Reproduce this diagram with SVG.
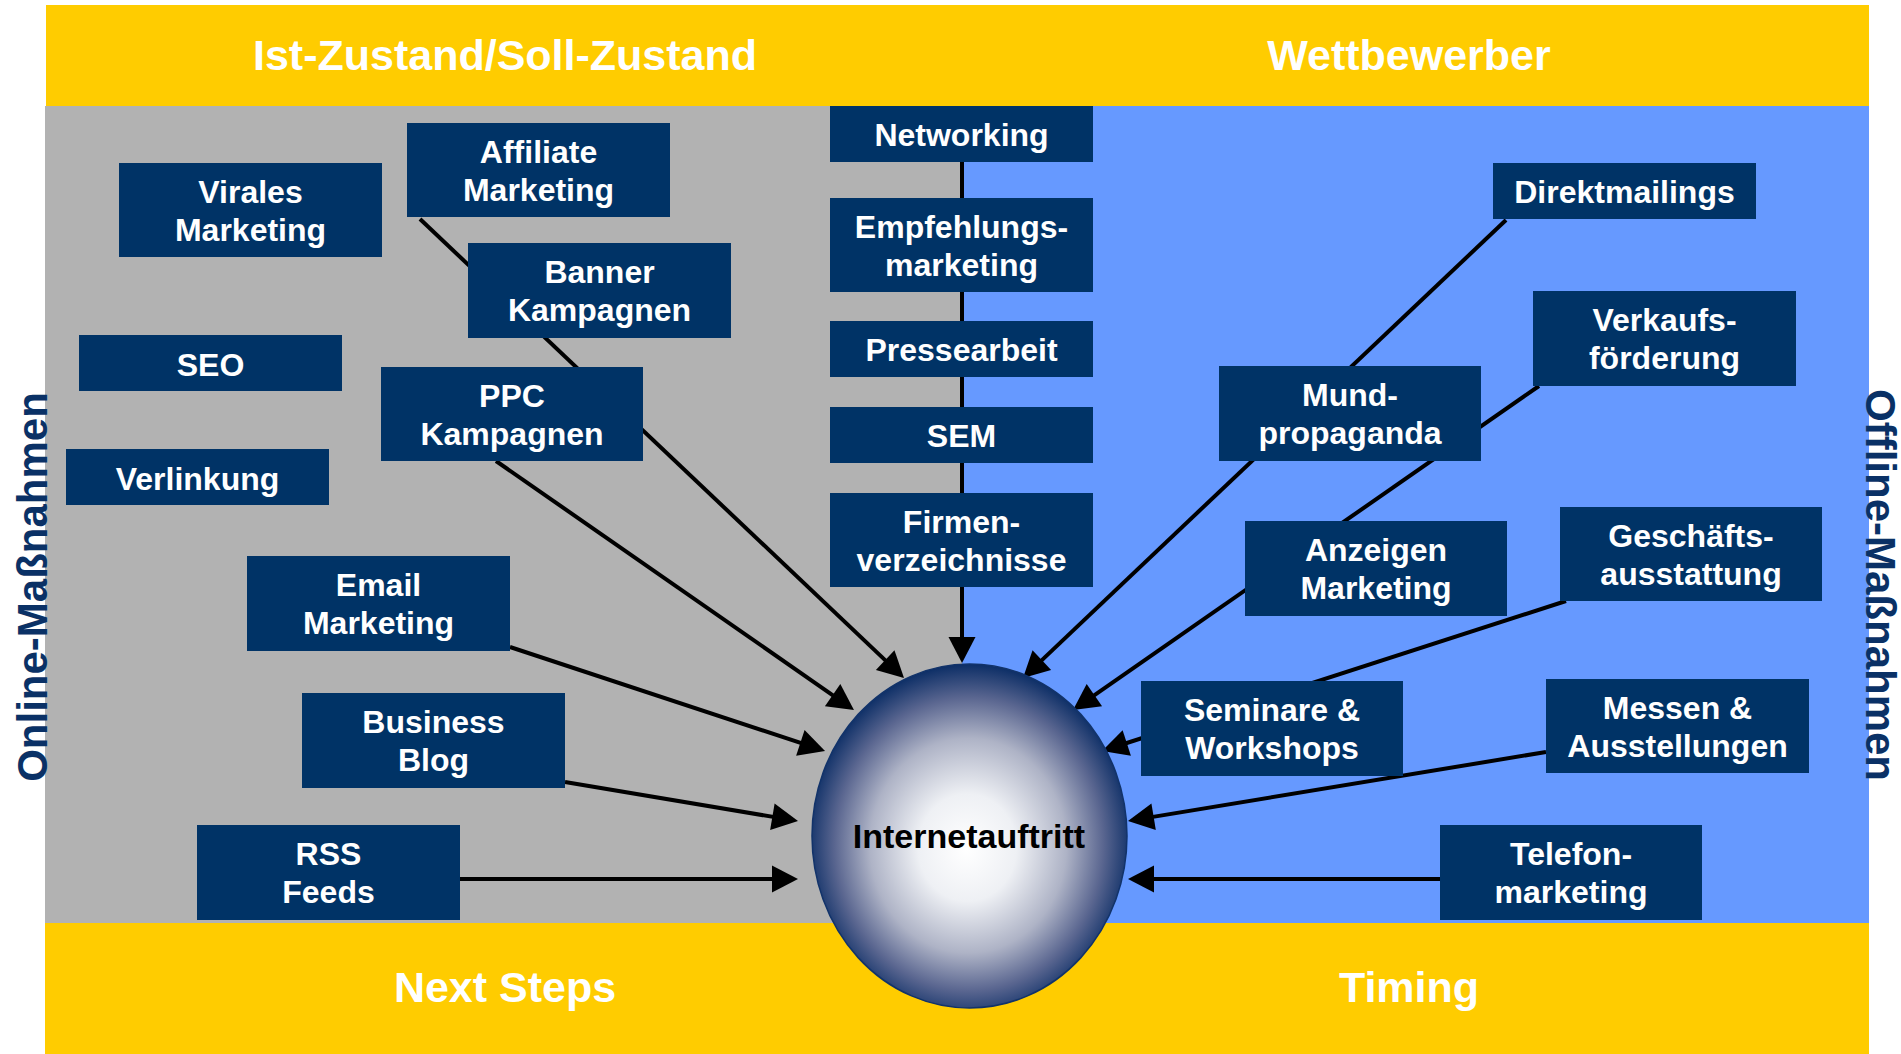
<svg xmlns="http://www.w3.org/2000/svg" width="1901" height="1054" viewBox="0 0 1901 1054">
<style>
.band{fill:#FFCC00}
.title{font-family:"Liberation Sans",Arial,sans-serif;font-weight:bold;font-size:43px;fill:#ffffff;text-anchor:middle}
.side{font-family:"Liberation Sans",Arial,sans-serif;font-weight:bold;font-size:42px;fill:#0a3166;text-anchor:middle}
.box rect{fill:#003366}
.box text{font-family:"Liberation Sans",Arial,sans-serif;font-weight:bold;font-size:32px;fill:#ffffff;text-anchor:middle}
.conn line{stroke:#000000;stroke-width:4;fill:none;marker-end:url(#arrow)}
.hub text{font-family:"Liberation Sans",Arial,sans-serif;font-weight:bold;font-size:34px;fill:#000000;text-anchor:middle}
</style>
<defs>
<marker id="arrow" markerUnits="userSpaceOnUse" markerWidth="26" markerHeight="27" refX="13" refY="13.5" orient="auto" overflow="visible">
<path d="M0,0 L26,13.5 L0,27 Z" fill="#000000"/>
</marker>
<radialGradient id="sphere" cx="50%" cy="52%" r="52%" fx="49%" fy="54%">
<stop offset="0" stop-color="#ffffff"/>
<stop offset="0.3" stop-color="#eef0f4"/>
<stop offset="0.6" stop-color="#aeb3c6"/>
<stop offset="0.82" stop-color="#5a6690"/>
<stop offset="1" stop-color="#0c2e66"/>
</radialGradient>
</defs>

<g id="background">
<rect class="band" x="46" y="5" width="1823" height="101"/>
<rect x="45" y="106" width="917" height="817" fill="#B2B2B2"/>
<rect x="962" y="106" width="907" height="817" fill="#6699FF"/>
<rect class="band" x="45" y="923" width="1824" height="131"/>
<text class="title" x="505" y="70">Ist-Zustand/Soll-Zustand</text>
<text class="title" x="1409" y="70">Wettbewerber</text>
<text class="title" x="505" y="1002">Next Steps</text>
<text class="title" x="1409" y="1002">Timing</text>
<text class="side" transform="translate(47,587) rotate(-90)">Online-Maßnahmen</text>
<text class="side" transform="translate(1866,585) rotate(90)">Offline-Maßnahmen</text>
</g>

<g id="connectors" class="conn">
<line x1="420" y1="219" x2="894.6" y2="669.1"/>
<line x1="496" y1="461" x2="843.3" y2="702.6"/>
<line x1="510" y1="647" x2="812.7" y2="746.9"/>
<line x1="565" y1="782" x2="785.2" y2="818.9"/>
<line x1="460" y1="879" x2="785" y2="879"/>
<line x1="962" y1="162" x2="962" y2="650"/>
<line x1="1506" y1="220" x2="1032.4" y2="669.1"/>
<line x1="1539" y1="386" x2="1083.7" y2="702.6"/>
<line x1="1566" y1="601" x2="1114.4" y2="747"/>
<line x1="1546" y1="752" x2="1140.8" y2="818.9"/>
<line x1="1440" y1="879" x2="1141" y2="879"/>
</g>

<g id="hub" class="hub">
<ellipse cx="969.5" cy="836" rx="157.5" ry="172" fill="url(#sphere)" stroke="#12336a" stroke-width="1.5"/>
<text x="969" y="848">Internetauftritt</text>
</g>

<g id="virales" class="box"><rect x="119" y="163" width="263" height="94"/><text x="250.5" y="203">Virales</text><text x="250.5" y="241">Marketing</text></g>
<g id="affiliate" class="box"><rect x="407" y="123" width="263" height="94"/><text x="538.5" y="163">Affiliate</text><text x="538.5" y="201">Marketing</text></g>
<g id="banner" class="box"><rect x="468" y="243" width="263" height="95"/><text x="599.5" y="283">Banner</text><text x="599.5" y="321">Kampagnen</text></g>
<g id="seo" class="box"><rect x="79" y="335" width="263" height="56"/><text x="210.5" y="376">SEO</text></g>
<g id="ppc" class="box"><rect x="381" y="367" width="262" height="94"/><text x="512" y="407">PPC</text><text x="512" y="445">Kampagnen</text></g>
<g id="verlinkung" class="box"><rect x="66" y="449" width="263" height="56"/><text x="197.5" y="490">Verlinkung</text></g>
<g id="email" class="box"><rect x="247" y="556" width="263" height="95"/><text x="378.5" y="596">Email</text><text x="378.5" y="634">Marketing</text></g>
<g id="blog" class="box"><rect x="302" y="693" width="263" height="95"/><text x="433.5" y="733">Business</text><text x="433.5" y="771">Blog</text></g>
<g id="rss" class="box"><rect x="197" y="825" width="263" height="95"/><text x="328.5" y="865">RSS</text><text x="328.5" y="903">Feeds</text></g>

<g id="networking" class="box"><rect x="830" y="106" width="263" height="56"/><text x="961.5" y="146">Networking</text></g>
<g id="empfehlung" class="box"><rect x="830" y="198" width="263" height="94"/><text x="961.5" y="238">Empfehlungs-</text><text x="961.5" y="276">marketing</text></g>
<g id="presse" class="box"><rect x="830" y="321" width="263" height="56"/><text x="961.5" y="361">Pressearbeit</text></g>
<g id="sem" class="box"><rect x="830" y="407" width="263" height="56"/><text x="961.5" y="447">SEM</text></g>
<g id="firmen" class="box"><rect x="830" y="493" width="263" height="94"/><text x="961.5" y="533">Firmen-</text><text x="961.5" y="571">verzeichnisse</text></g>

<g id="direkt" class="box"><rect x="1493" y="163" width="263" height="56"/><text x="1624.5" y="203">Direktmailings</text></g>
<g id="verkauf" class="box"><rect x="1533" y="291" width="263" height="95"/><text x="1664.5" y="331">Verkaufs-</text><text x="1664.5" y="369">förderung</text></g>
<g id="mund" class="box"><rect x="1219" y="366" width="262" height="95"/><text x="1350" y="406">Mund-</text><text x="1350" y="444">propaganda</text></g>
<g id="anzeigen" class="box"><rect x="1245" y="521" width="262" height="95"/><text x="1376" y="561">Anzeigen</text><text x="1376" y="599">Marketing</text></g>
<g id="geschaeft" class="box"><rect x="1560" y="507" width="262" height="94"/><text x="1691" y="547">Geschäfts-</text><text x="1691" y="585">ausstattung</text></g>
<g id="seminare" class="box"><rect x="1141" y="681" width="262" height="95"/><text x="1272" y="721">Seminare &amp;</text><text x="1272" y="759">Workshops</text></g>
<g id="messen" class="box"><rect x="1546" y="679" width="263" height="94"/><text x="1677.5" y="719">Messen &amp;</text><text x="1677.5" y="757">Ausstellungen</text></g>
<g id="telefon" class="box"><rect x="1440" y="825" width="262" height="95"/><text x="1571" y="865">Telefon-</text><text x="1571" y="903">marketing</text></g>
</svg>
